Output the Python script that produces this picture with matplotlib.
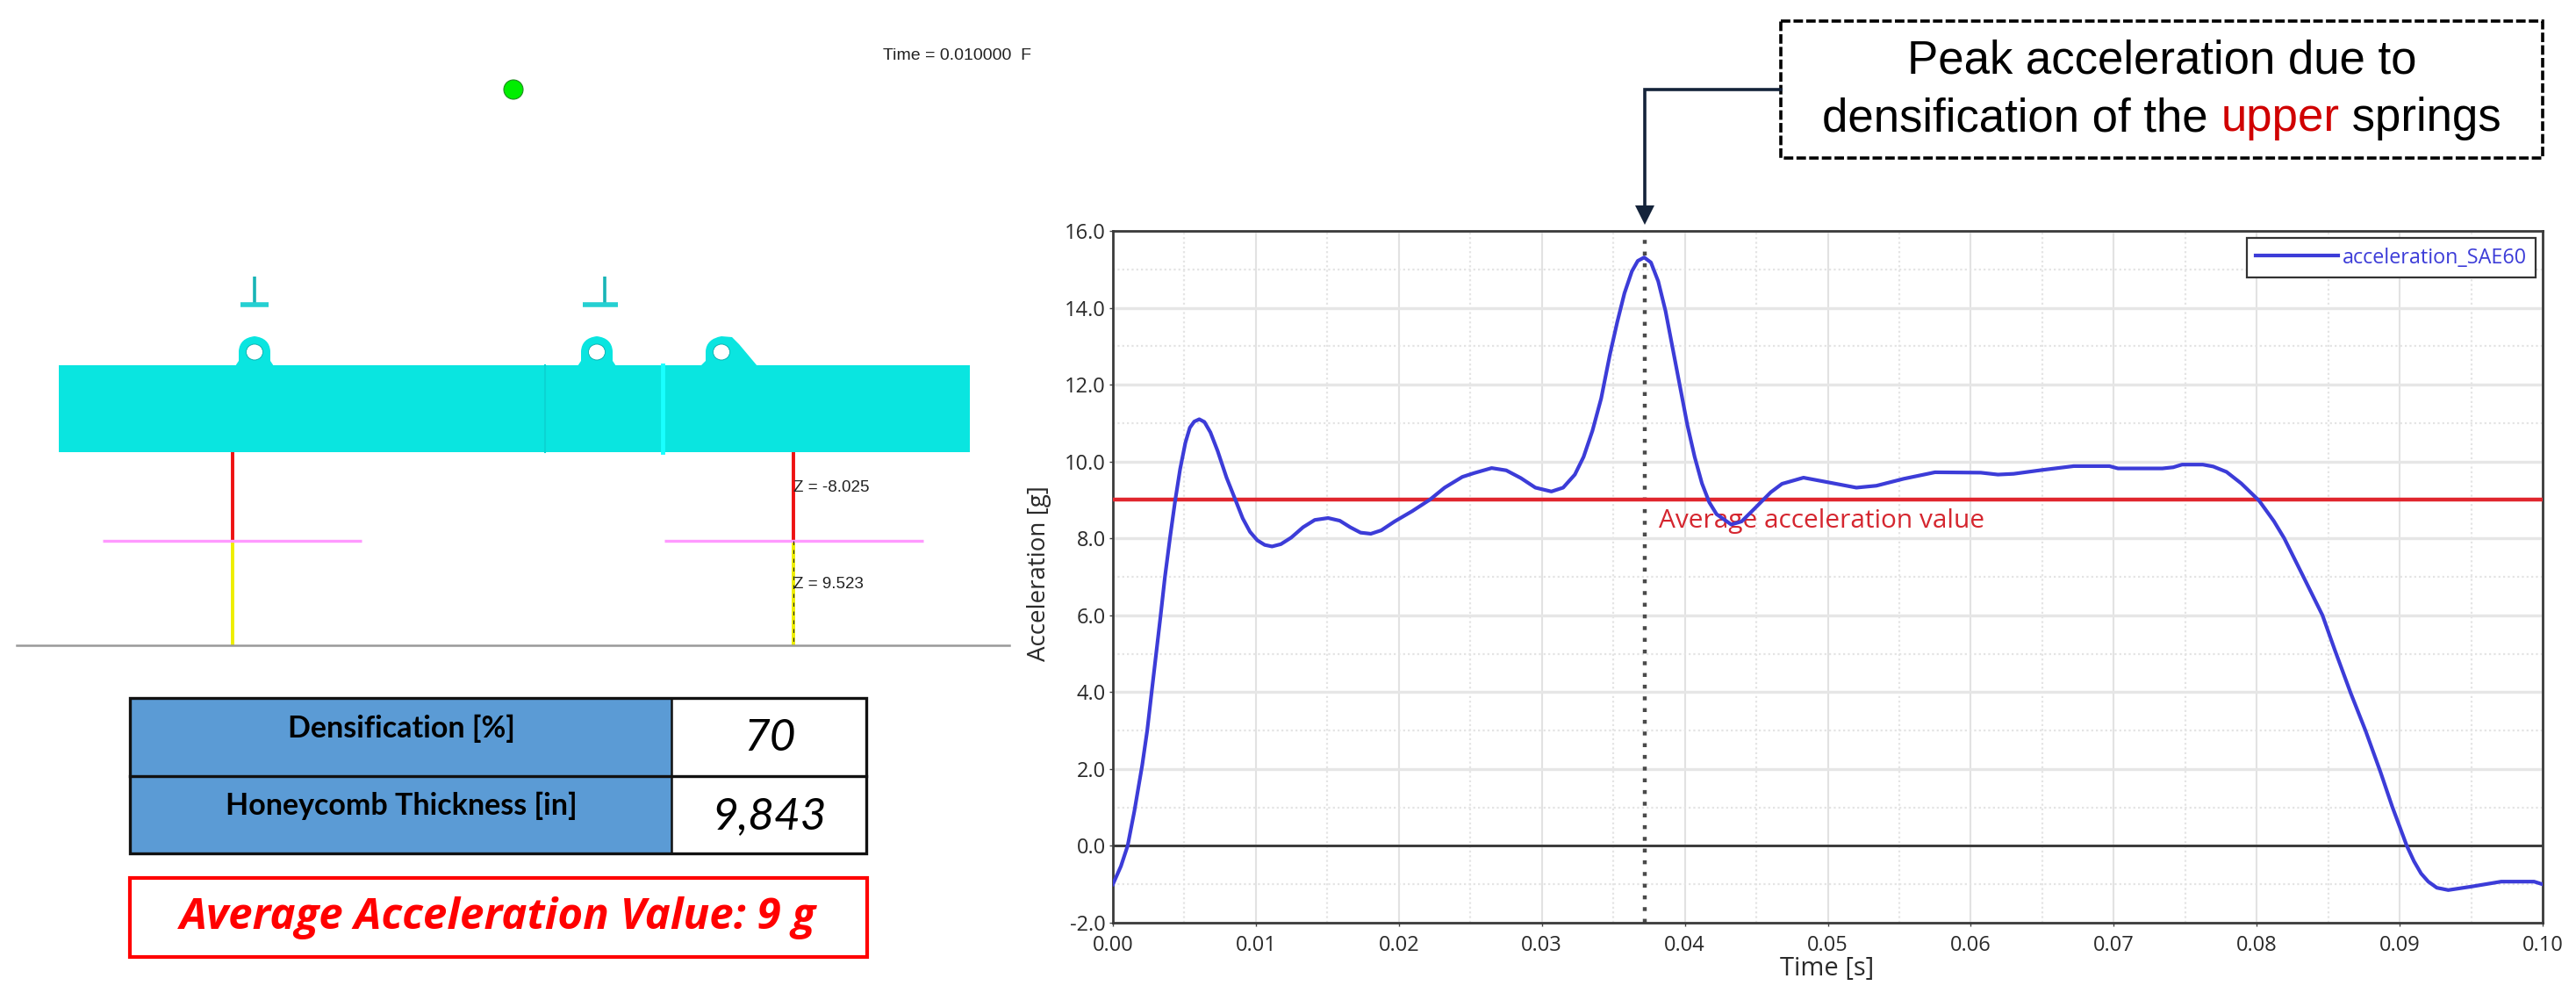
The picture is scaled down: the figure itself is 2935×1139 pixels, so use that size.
import numpy as np
import matplotlib
matplotlib.use('Agg')
import matplotlib.pyplot as plt
from matplotlib.patches import Rectangle, Circle, Ellipse, Polygon, PathPatch
from matplotlib.path import Path

W, H = 2935, 1139

# values
time_s = [0.0, 0.00056, 0.00103, 0.0015, 0.00205, 0.0024, 0.00271, 0.00333, 0.00364, 0.00401, 0.00435, 0.0047,
          0.00507, 0.00538, 0.00569, 0.00604, 0.0064, 0.00682, 0.00733, 0.00795, 0.00856, 0.00908, 0.00959,
          0.0101, 0.01062, 0.01113, 0.01175, 0.01247, 0.0133, 0.01412, 0.01505, 0.01587, 0.0166, 0.01732,
          0.01804, 0.01877, 0.0197, 0.02094, 0.02218, 0.0232, 0.02444, 0.02527, 0.02649, 0.02751, 0.02853,
          0.02955, 0.03067, 0.03149, 0.03231, 0.03292, 0.03354, 0.03415, 0.03476, 0.03527, 0.03578, 0.0363,
          0.03671, 0.03716, 0.03763, 0.03814, 0.03865, 0.03916, 0.03967, 0.04018, 0.04069, 0.0412, 0.04171,
          0.04222, 0.04325, 0.04397, 0.04489, 0.04601, 0.0468, 0.0483, 0.0503, 0.0520,
          0.0534, 0.0553, 0.0575, 0.0607, 0.0619, 0.0630, 0.0650, 0.0672, 0.0697, 0.0703, 0.0734, 0.07416,
          0.07478, 0.07623, 0.07696, 0.07789, 0.07892, 0.08017, 0.0812, 0.08193, 0.08327, 0.0846, 0.08545,
          0.08658, 0.08762, 0.08865, 0.08948, 0.0900, 0.0905, 0.0910, 0.0915, 0.0920, 0.0926, 0.0934, 0.0950,
          0.0971, 0.0994, 0.1000]
accel_g = [-1.0, -0.53, 0.0, 0.9, 2.1, 3.0, 4.0, 5.97, 7.0, 8.06, 8.97, 9.8,
           10.49, 10.88, 11.04, 11.1, 11.03, 10.76, 10.27, 9.58, 9.01, 8.52, 8.17,
           7.95, 7.83, 7.79, 7.85, 8.02, 8.29, 8.48, 8.53, 8.46, 8.29, 8.15,
           8.12, 8.21, 8.44, 8.71, 9.01, 9.32, 9.6, 9.7, 9.83, 9.77, 9.57,
           9.32, 9.22, 9.32, 9.66, 10.12, 10.8, 11.64, 12.78, 13.62, 14.38, 14.95,
           15.22, 15.31, 15.18, 14.69, 13.92, 12.93, 11.94, 10.95, 10.12, 9.43, 8.94,
           8.63, 8.36, 8.44, 8.78, 9.2, 9.42, 9.58, 9.44, 9.32,
           9.37, 9.55, 9.72, 9.71, 9.66, 9.68, 9.78, 9.88, 9.88, 9.82, 9.82, 9.85,
           9.92, 9.92, 9.87, 9.73, 9.43, 8.98, 8.45, 8.0, 7.0, 6.0, 5.11,
           3.97, 2.99, 1.93, 1.02, 0.5, 0.0, -0.4, -0.72, -0.93, -1.09, -1.15, -1.06,
           -0.93, -0.93, -1.0]
series_name = 'acceleration_SAE60'
average_g = 9.0
peak_time = 0.0372

x_ticks = [0.0, 0.01, 0.02, 0.03, 0.04, 0.05, 0.06, 0.07, 0.08, 0.09, 0.10]
y_ticks = [-2, 0, 2, 4, 6, 8, 10, 12, 14, 16]

table_labels = ['Densification [%]', 'Honeycomb Thickness [in]']
table_values = ['70', '9,843']

BLUE = '#3c3cd8'
RED = '#e0262e'
CYAN = '#0ae5e0'
NAVY = '#14233a'
SANS = 'Open Sans'

fig = plt.figure(figsize=(W / 100, H / 100), dpi=100, facecolor='white')

# chart axes, placed in pixels
L, R, T, B = 1268, 2897, 263, 1051
ax = fig.add_axes([L / W, 1 - B / H, (R - L) / W, (B - T) / H])
ax.set_xlim(0, 0.1)
ax.set_ylim(-2, 16)
ax.set_xticks(x_ticks)
ax.set_xticklabels(['%.2f' % v for v in x_ticks], fontsize=17, family=SANS, color='#2a2a2a')
ax.set_yticks(y_ticks)
ax.set_yticklabels(['%.1f' % v for v in y_ticks], fontsize=17, family=SANS, color='#2a2a2a')
ax.set_xticks(np.arange(0.005, 0.1, 0.01), minor=True)
ax.set_yticks(np.arange(-1, 16, 2), minor=True)
ax.tick_params(axis='x', which='major', length=3, width=1, color='#444444', pad=7)
ax.tick_params(axis='y', which='major', length=3, width=1, color='#444444', pad=3)
ax.tick_params(axis='both', which='minor', length=0)
ax.grid(True, axis='x', which='major', color='#e2e2e2', lw=1.5)
ax.grid(True, axis='y', which='major', color='#e6e6e6', lw=2.4)
ax.grid(True, which='minor', color='#e4e4e4', lw=1.6, linestyle=(0, (1, 1.4)))
ax.set_axisbelow(True)
for side in ax.spines:
    ax.spines[side].set_linewidth(2)
    ax.spines[side].set_color('#3a3a3a')

ax.axhline(0, color='#333333', lw=2, zorder=2)
ax.axvline(peak_time, color='#4a4a4a', lw=3.2, linestyle=(0, (1.0, 2.0)), zorder=2)
ax.axhline(average_g, color=RED, lw=3.2, zorder=3)
curve, = ax.plot(time_s, accel_g, color=BLUE, lw=3, zorder=4, solid_joinstyle='round', label=series_name)
ax.text(0.0382, 8.44, 'Average acceleration value', color='#d5262f', fontsize=21.5, family=SANS, va='center', ha='left')

leg = ax.legend(handles=[curve], loc='upper right', bbox_to_anchor=(0.9951, 0.9898),
                prop={'family': SANS, 'size': 16.8}, labelcolor=BLUE, frameon=True, fancybox=False, framealpha=1,
                edgecolor='#333333', borderpad=0.45, handlelength=4.0, handletextpad=0.2, borderaxespad=0)
leg.get_frame().set_linewidth(1.6)

# everything else is laid out in image pixels
ov = fig.add_axes([0, 0, 1, 1], facecolor='none')
ov.set_xlim(0, W)
ov.set_ylim(H, 0)
ov.axis('off')

ov.text(1184, 653, 'Acceleration [g]', rotation=90, fontsize=20, family=SANS, color='#2a2a2a', ha='center', va='center')
ov.text(2082, 1103, 'Time [s]', fontsize=21, family=SANS, color='#2a2a2a', ha='center', va='center')

# model view on the left
ov.add_patch(Circle((585, 102), 11, fc='#00ee00', ec='#1f8a1f', lw=0.8))
ov.text(1006, 64, 'Time = 0.010000  F', fontsize=14, family='Liberation Sans', color='#222222', va='center')

ov.add_patch(Rectangle((67, 416), 1038, 99, fc=CYAN, ec='none'))
ov.plot([621, 621], [416, 515], color='#0bd4d2', lw=1.5)
ov.plot([755, 755], [416, 515], color='#19ffff', lw=3.5)


def lug(cx, right_flare=False):
    top, base = 383, 417
    hw = 18
    left = cx - hw
    right = cx + hw
    if right_flare:
        verts = [(left - 6, base), (left, base - 6), (left, 400), (left + 1, 386), (cx, top), (cx + 12, 384),
                 (cx + 20, 392), (cx + 41, base)]
        codes = [Path.MOVETO, Path.LINETO, Path.LINETO, Path.CURVE3, Path.CURVE3, Path.LINETO, Path.LINETO,
                 Path.LINETO]
    else:
        verts = [(left - 4, base), (left, base - 6), (left, 400), (left + 1, 385), (cx, top), (right - 1, 385),
                 (right, 400), (right, base - 6), (right + 4, base)]
        codes = [Path.MOVETO, Path.LINETO, Path.LINETO, Path.CURVE3, Path.CURVE3, Path.CURVE3, Path.CURVE3,
                 Path.LINETO, Path.LINETO]
    verts = verts + [verts[0]]
    codes = codes + [Path.CLOSEPOLY]
    ov.add_patch(PathPatch(Path(verts, codes), fc=CYAN, ec='none'))
    ov.add_patch(Ellipse((cx, 401), 19, 18, fc='white', ec='#08a8a8', lw=0.6))


lug(290)
lug(680)
lug(822, right_flare=True)

for cx, x0, x1 in [(290, 274, 306), (689, 664, 704)]:
    ov.plot([cx, cx], [315, 346], color='#18b4b6', lw=2.6, solid_capstyle='butt')
    ov.plot([x0, x1], [347, 347], color='#25d0d2', lw=4, solid_capstyle='butt')

for sx, px0, px1 in [(265, 117, 412), (904, 757, 1052)]:
    ov.plot([sx, sx], [515, 616], color='#ee1111', lw=2.8, solid_capstyle='butt')
    ov.plot([sx, sx], [616, 735], color='#eeee00', lw=2.8, solid_capstyle='butt')
    ov.plot([px0, px1], [616, 616], color='#ff99ff', lw=2.4, solid_capstyle='butt')
ov.plot([904, 904], [616, 735], color='#222222', lw=0.8, linestyle=(0, (4, 5)))
ov.plot([19, 1150], [735, 735], color='#999999', lw=1.8)
ov.text(904, 556, 'Z = -8.025', fontsize=13.5, family='Liberation Sans', color='#222222', va='center')
ov.text(904, 665, 'Z = 9.523', fontsize=13.5, family='Liberation Sans', color='#222222', va='center')

# table under the model
ov.add_patch(Rectangle((148, 795), 617, 177, fc='#5b9bd5', ec='none'))
ov.add_patch(Rectangle((148, 795), 839, 177, fc='none', ec='#111111', lw=2.4))
ov.plot([148, 987], [884, 884], color='#111111', lw=2.4)
ov.plot([765, 765], [795, 972], color='#111111', lw=1.8)
ov.text(457, 830, table_labels[0], fontsize=24.5, family='Lato', weight='bold', color='black', ha='center', va='center')
ov.text(457, 918, table_labels[1], fontsize=24.5, family='Lato', weight='bold', color='black', ha='center', va='center')
ov.text(877, 841, table_values[0], fontsize=37, family='Lato', style='italic', color='black', ha='center', va='center')
ov.text(877, 930, table_values[1], fontsize=37, family='Lato', style='italic', color='black', ha='center', va='center')

ov.add_patch(Rectangle((148, 1000), 840, 90, fc='white', ec='#ff0000', lw=3))
ov.text(567, 1046, 'Average Acceleration Value: 9 g', fontsize=35.5, family='Open Sans', weight='bold', style='italic',
        color='#ff0000', ha='center', va='center')

# callout above the chart
ov.add_patch(Rectangle((2029, 24), 868, 156, fc='white', ec='black', lw=2.6, linestyle=(0, (3, 1))))
ov.text(2463, 70, 'Peak acceleration due to', fontsize=38, family='Liberation Sans', color='black', ha='center', va='center')
peak_x = L + peak_time / 0.1 * (R - L)
ov.plot([2029, peak_x, peak_x], [102, 102, 236], color=NAVY, lw=2.6, solid_joinstyle='miter')
ov.add_patch(Polygon([(peak_x - 11, 234), (peak_x + 11, 234), (peak_x, 256)], closed=True, fc=NAVY, ec='none'))

fig.canvas.draw()
rend = fig.canvas.get_renderer()
parts = [('densification of the ', 'black'), ('upper', '#d00000'), (' springs', 'black')]
widths = []
for s, c in parts:
    tmp = ov.text(0, 0, s.replace(' ', '\u00a0'), fontsize=38, family='Liberation Sans')
    bb = tmp.get_window_extent(rend)
    widths.append(bb.width)
    tmp.remove()
x = 2463 - sum(widths) / 2
for (s, c), w in zip(parts, widths):
    ov.text(x, 135, s.replace(' ', '\u00a0'), fontsize=38, family='Liberation Sans', color=c, ha='left', va='center')
    x += w

fig.savefig('out.png', dpi=100)
